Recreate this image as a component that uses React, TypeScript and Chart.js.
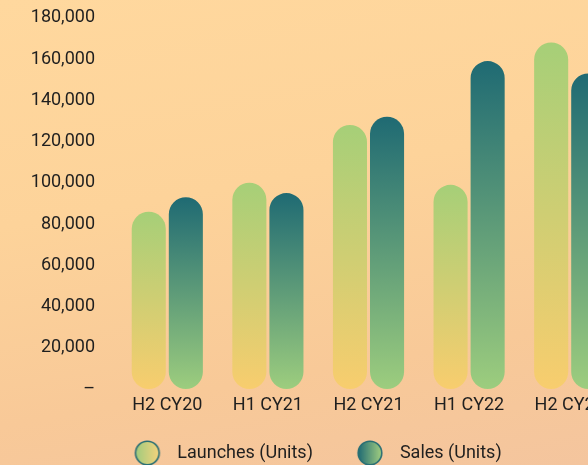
import React, { useEffect, useRef } from "react";
import { Chart, registerables } from "chart.js";

Chart.register(...registerables);

const categories = ["H2 CY20", "H1 CY21", "H2 CY21", "H1 CY22", "H2 CY22"];
const launches = [86000, 100000, 128000, 99000, 168000];
const sales = [93000, 95000, 132000, 159000, 153000];
const seriesNames = ["Launches (Units)", "Sales (Units)"];
const yTicksMax = 180000;
const yTicksStep = 20000;

const FONT = "Roboto, 'Noto Sans', sans-serif";
const TEXT = "#1f1f1f";

const launchTop = "#A6CF78";
const launchBottom = "#F8CD6E";
const salesTop = "#1F6A73";
const salesBottom = "#9DCD7E";

function legendImage(left: string, right: string): HTMLCanvasElement {
  const c = document.createElement("canvas");
  c.width = 50;
  c.height = 26;
  const g = c.getContext("2d")!;
  const grad = g.createLinearGradient(17, 0, 41, 0);
  grad.addColorStop(0, left);
  grad.addColorStop(1, right);
  g.beginPath();
  g.arc(29, 13, 11.8, 0, Math.PI * 2);
  g.fillStyle = grad;
  g.fill();
  g.lineWidth = 1.6;
  g.strokeStyle = "#2A6F74";
  g.stroke();
  return c;
}

function barGradient(top: string, bottom: string) {
  return (ctx: any) => {
    const chart = ctx.chart;
    const y = chart.scales && chart.scales.y;
    if (!chart.chartArea || !y || ctx.type !== "data") return top;
    const v = ctx.raw as number;
    const yTop = y.getPixelForValue(v);
    const yBot = y.getPixelForValue(0);
    if (!isFinite(yTop) || !isFinite(yBot) || yTop === yBot) return top;
    const g = chart.ctx.createLinearGradient(0, yTop, 0, yBot);
    g.addColorStop(0, top);
    g.addColorStop(1, bottom);
    return g;
  };
}

export default function App() {
  const ref = useRef<HTMLCanvasElement | null>(null);

  useEffect(() => {
    if (!ref.current) return;
    const imgs = [
      legendImage("#9FCB7E", "#F6D37C"),
      legendImage("#1F6A73", "#A3CF80"),
    ];
    const chart = new Chart(ref.current, {
      type: "bar",
      data: {
        labels: categories,
        datasets: [
          {
            label: seriesNames[0],
            data: launches,
            backgroundColor: barGradient(launchTop, launchBottom),
            borderRadius: 40,
            borderSkipped: false,
            categoryPercentage: 0.737,
            barPercentage: 0.919,
          },
          {
            label: seriesNames[1],
            data: sales,
            backgroundColor: barGradient(salesTop, salesBottom),
            borderRadius: 40,
            borderSkipped: false,
            categoryPercentage: 0.737,
            barPercentage: 0.919,
          },
        ],
      },
      options: {
        animation: false,
        responsive: false,
        maintainAspectRatio: false,
        layout: { padding: 0 },
        plugins: {
          tooltip: { enabled: false },
          legend: {
            display: true,
            position: "bottom",
            labels: {
              usePointStyle: true,
              pointStyleWidth: 50,
              padding: 28,
              color: TEXT,
              font: { family: FONT, size: 18 },
              generateLabels: (ch: any) =>
                ch.data.datasets.map((ds: any, i: number) => ({
                  text: ds.label,
                  pointStyle: imgs[i],
                  fillStyle: "rgba(0,0,0,0)",
                  strokeStyle: "rgba(0,0,0,0)",
                  lineWidth: 0,
                  hidden: false,
                  datasetIndex: i,
                  fontColor: TEXT,
                })),
            },
          },
        },
        scales: {
          x: {
            grid: { display: false, drawTicks: false },
            border: { display: false },
            ticks: {
              color: TEXT,
              padding: 6,
              font: { family: FONT, size: 18 },
              maxRotation: 0,
              autoSkip: false,
            },
            afterFit: (s: any) => {
              s.height = 27;
            },
          },
          y: {
            min: 0,
            max: yTicksMax,
            grid: { display: false, drawTicks: false },
            border: { display: false },
            ticks: {
              stepSize: yTicksStep,
              color: TEXT,
              padding: 22,
              font: { family: FONT, size: 18 },
              callback: (v: any) =>
                Number(v) === 0 ? "–" : Number(v).toLocaleString("en-US"),
            },
            afterFit: (s: any) => {
              s.width = 117;
            },
          },
        },
      },
    });
    return () => chart.destroy();
  }, []);

  return (
    <div
      style={{
        position: "fixed",
        inset: 0,
        overflow: "hidden",
        background:
          "linear-gradient(170deg, #FFD89E 0%, #FDD39A 40%, #F8C998 75%, #F4C59E 100%)",
      }}
    >
      <div style={{ position: "absolute", left: 0, top: -15, width: 620, height: 487 }}>
        <canvas ref={ref} width={620} height={487} style={{ display: "block" }} />
      </div>
    </div>
  );
}
